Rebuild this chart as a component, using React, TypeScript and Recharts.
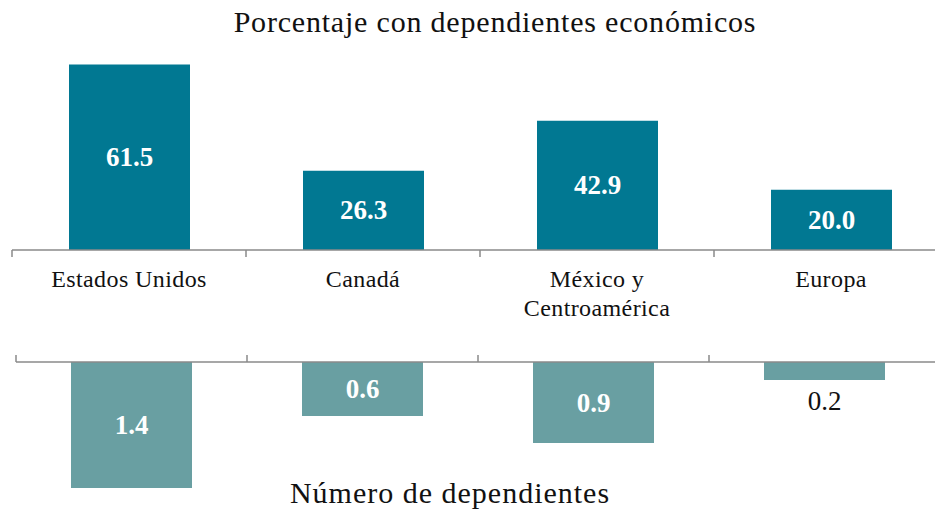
import React from "react";
import { BarChart, Bar, XAxis, YAxis, LabelList } from "recharts";

const categories = ["Estados Unidos", "Canadá", "México y\nCentroamérica", "Europa"];
const pctDependents = [61.5, 26.3, 42.9, 20.0];
const numDependents = [1.4, 0.6, 0.9, 0.2];

const topData = categories.map((name, i) => ({ name, value: pctDependents[i] }));
const bottomData = categories.map((name, i) => ({ name, value: numDependents[i] }));

const FONT = '"Liberation Serif", "Times New Roman", serif';
const TOP_COLOR = "#017892";
const BOTTOM_COLOR = "#699FA2";
const AXIS_COLOR = "#8a8a8a";

const TopTick = (props: any) => {
  const { x, y, payload, index } = props;
  const half = payload && payload.offset != null ? payload.offset : 117;
  const axisY = y - 8;
  const lines = String(payload.value).split("\n");
  return (
    <g>
      <line x1={x - half} x2={x - half} y1={axisY} y2={axisY + 7} stroke={AXIS_COLOR} strokeWidth={1.5} />
      {index === categories.length - 1 && (
        <line x1={x + half} x2={x + half} y1={axisY} y2={axisY + 7} stroke={AXIS_COLOR} strokeWidth={1.5} />
      )}
      <text x={x} y={axisY + 37} textAnchor="middle" fill="#111" fontSize={24} letterSpacing={0.4} fontFamily={FONT}>
        {lines.map((l, i) => (
          <tspan key={i} x={x} dy={i === 0 ? 0 : 29}>
            {l}
          </tspan>
        ))}
      </text>
    </g>
  );
};

const BottomTick = (props: any) => {
  const { x, y, payload, index } = props;
  const half = payload && payload.offset != null ? payload.offset : 115.5;
  const axisY = y + 8;
  return (
    <g>
      <line x1={x - half} x2={x - half} y1={axisY} y2={axisY - 7} stroke={AXIS_COLOR} strokeWidth={1.5} />
      {index === categories.length - 1 && (
        <line x1={x + half} x2={x + half} y1={axisY} y2={axisY - 7} stroke={AXIS_COLOR} strokeWidth={1.5} />
      )}
    </g>
  );
};

const TopLabel = (props: any) => {
  const { x, y, width, height, value } = props;
  const top = Math.min(y, y + height);
  const h = Math.abs(height);
  return (
    <text
      x={x + width / 2}
      y={top + h / 2}
      textAnchor="middle"
      dominantBaseline="central"
      fill="#ffffff"
      fontWeight="bold"
      fontSize={27}
      fontFamily={FONT}
    >
      {Number(value).toFixed(1)}
    </text>
  );
};

const BottomLabel = (props: any) => {
  const { x, y, width, height, value } = props;
  const top = Math.min(y, y + height);
  const h = Math.abs(height);
  const cx = x + width / 2;
  if (Number(value) < 0.3) {
    return (
      <text x={cx} y={top + h + 21} textAnchor="middle" dominantBaseline="central" fill="#111" fontSize={27} fontFamily={FONT}>
        {Number(value).toFixed(1)}
      </text>
    );
  }
  return (
    <text
      x={cx}
      y={top + h / 2}
      textAnchor="middle"
      dominantBaseline="central"
      fill="#ffffff"
      fontWeight="bold"
      fontSize={27}
      fontFamily={FONT}
    >
      {Number(value).toFixed(1)}
    </text>
  );
};

export default function App() {
  return (
    <div style={{ position: "absolute", left: 0, top: 0, width: 935, height: 514, overflow: "hidden", background: "#fff" }}>
      <div style={{ position: "absolute", left: 0, top: 0 }}>
        <BarChart width={960} height={320} data={topData} margin={{ top: 39, right: 12, bottom: 0, left: 12 }}>
          <XAxis
            dataKey="name"
            height={70}
            interval={0}
            tickSize={6}
            tickMargin={2}
            tickLine={false}
            axisLine={{ stroke: AXIS_COLOR, strokeWidth: 1.5 }}
            tick={<TopTick />}
          />
          <YAxis hide domain={[0, 70]} />
          <Bar dataKey="value" fill={TOP_COLOR} barSize={121} isAnimationActive={false}>
            <LabelList dataKey="value" content={<TopLabel />} />
          </Bar>
        </BarChart>
      </div>
      <div style={{ position: "absolute", left: 0, top: 0 }}>
        <BarChart width={960} height={514} data={bottomData} margin={{ top: 352, right: 20, bottom: 17, left: 16 }}>
          <XAxis
            dataKey="name"
            orientation="top"
            height={10}
            interval={0}
            tickSize={6}
            tickMargin={2}
            tickLine={false}
            axisLine={{ stroke: AXIS_COLOR, strokeWidth: 1.5 }}
            tick={<BottomTick />}
          />
          <YAxis hide reversed domain={[0, 1.5]} />
          <Bar dataKey="value" fill={BOTTOM_COLOR} barSize={121} isAnimationActive={false}>
            <LabelList dataKey="value" content={<BottomLabel />} />
          </Bar>
        </BarChart>
      </div>
      <svg width={935} height={514} style={{ position: "absolute", left: 0, top: 0, pointerEvents: "none" }}>
        <text x={495} y={32} textAnchor="middle" fontSize={30} letterSpacing={0.8} fill="#111" fontFamily={FONT}>
          Porcentaje con dependientes económicos
        </text>
        <text x={450} y={503} textAnchor="middle" fontSize={30} letterSpacing={1} fill="#111" fontFamily={FONT}>
          Número de dependientes
        </text>
      </svg>
    </div>
  );
}
